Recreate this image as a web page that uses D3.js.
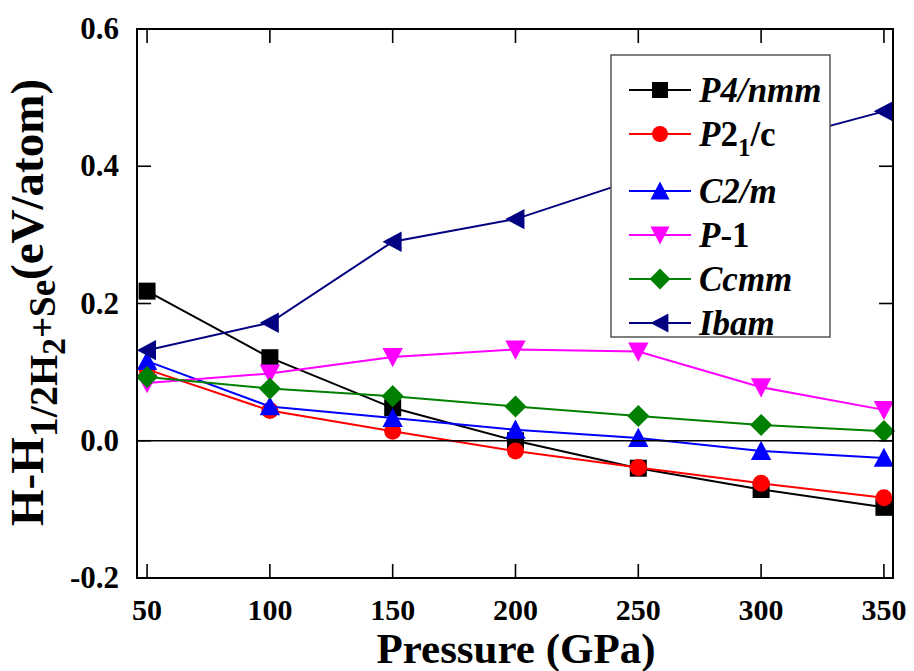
<!DOCTYPE html>
<html>
<head>
<meta charset="utf-8">
<script src="https://cdn.jsdelivr.net/npm/d3@7"></script>
</head>
<body style="margin:0;background:#fff">
<div id="graph"></div>
<script>
// pressure points (GPa)
var pressure = [50, 100, 150, 200, 250, 300, 350]

// enthalpy vs 1/2H2+Se (eV/atom)
var p4nmm = [0.218, 0.121, 0.048, 0.000, -0.040, -0.071, -0.097]
var p21c  = [0.104, 0.044, 0.014, -0.015, -0.039, -0.062, -0.083]
var c2m   = [0.116, 0.050, 0.033, 0.016, 0.004, -0.015, -0.025]
var p1    = [0.084, 0.098, 0.122, 0.133, 0.130, 0.078, 0.045]
var ccmm  = [0.093, 0.076, 0.065, 0.050, 0.036, 0.023, 0.014]
var ibam  = [0.132, 0.172, 0.290, 0.323, 0.382, 0.432, 0.480]

var seriesNames = ['P4/nmm', 'P21/c', 'C2/m', 'P-1', 'Ccmm', 'Ibam']
var seriesValues = [p4nmm, p21c, c2m, p1, ccmm, ibam]
var xTicks = [50, 100, 150, 200, 250, 300, 350]
var yTicks = [-0.2, 0.0, 0.2, 0.4, 0.6]

var colors = ['#000000', '#ff0000', '#0000ff', '#ff00ff', '#008000', '#000080']
var shapes = ['square', 'circle', 'up', 'down', 'diamond', 'left']

var W = 914, H = 671
var margin = { top: 29, right: 21, bottom: 93, left: 137 }
var width = W - margin.left - margin.right,
    height = H - margin.top - margin.bottom

var svg = d3.select('#graph').append('svg')
    .attr('width', W)
    .attr('height', H)

var x = d3.scaleLinear().domain([45.9, 353.7]).range([margin.left, margin.left + width])
var y = d3.scaleLinear().domain([-0.2, 0.6]).range([margin.top + height, margin.top])

// marker path centred on 0,0
function marker(shape, s) {
    var h = s / 2
    if (shape == 'square') return 'M' + (-h) + ',' + (-h) + 'h' + s + 'v' + s + 'h' + (-s) + 'Z'
    if (shape == 'circle') return d3.symbol(d3.symbolCircle, Math.PI * h * h)()
    if (shape == 'diamond') { var d = h * 1.3; return 'M0,' + (-d) + 'L' + d + ',0L0,' + d + 'L' + (-d) + ',0Z' }
    var a = h * 1.2, b = h * 1.05
    if (shape == 'up') return 'M0,' + (-a) + 'L' + a + ',' + b + 'L' + (-a) + ',' + b + 'Z'
    if (shape == 'down') return 'M0,' + a + 'L' + a + ',' + (-b) + 'L' + (-a) + ',' + (-b) + 'Z'
    if (shape == 'left') return 'M' + (-a) + ',0L' + b + ',' + (-a) + 'L' + b + ',' + a + 'Z'
}

var line = d3.line()
    .x(function (d) { return x(d.p) })
    .y(function (d) { return y(d.v) })

// series
seriesValues.forEach(function (vals, k) {
    var pts = vals.map(function (v, i) { return { p: pressure[i], v: v } })
    var g = svg.append('g')
    g.append('path')
        .datum(pts)
        .attr('fill', 'none')
        .attr('stroke', colors[k])
        .attr('stroke-width', 2)
        .attr('d', line)
    g.selectAll('.pt')
        .data(pts)
        .enter()
        .append('path')
        .attr('class', 'pt')
        .attr('transform', function (d) { return 'translate(' + x(d.p) + ',' + y(d.v) + ')' })
        .attr('d', marker(shapes[k], 17))
        .attr('fill', colors[k])
})

// zero line
svg.append('line')
    .attr('x1', x.range()[0]).attr('x2', x.range()[1])
    .attr('y1', y(0)).attr('y2', y(0))
    .attr('stroke', '#000')
    .attr('stroke-width', 1.6)

// frame with inward ticks on all sides
var tickLen = 14
svg.append('rect')
    .attr('x', margin.left).attr('y', margin.top)
    .attr('width', width).attr('height', height)
    .attr('fill', 'none').attr('stroke', '#000').attr('stroke-width', 2)

var ticks = svg.append('g').attr('stroke', '#000').attr('stroke-width', 1.6)
xTicks.forEach(function (t) {
    ticks.append('line').attr('x1', x(t)).attr('x2', x(t)).attr('y1', margin.top + height).attr('y2', margin.top + height - tickLen)
    ticks.append('line').attr('x1', x(t)).attr('x2', x(t)).attr('y1', margin.top).attr('y2', margin.top + tickLen)
})
yTicks.forEach(function (t) {
    ticks.append('line').attr('y1', y(t)).attr('y2', y(t)).attr('x1', margin.left).attr('x2', margin.left + tickLen)
    ticks.append('line').attr('y1', y(t)).attr('y2', y(t)).attr('x1', margin.left + width).attr('x2', margin.left + width - tickLen)
})

svg.append('g').selectAll('text')
    .data(xTicks)
    .enter()
    .append('text')
    .attr('x', function (d) { return x(d) })
    .attr('y', 620)
    .attr('text-anchor', 'middle')
    .attr('font-size', 30)
    .text(function (d) { return d })

svg.append('g').selectAll('text')
    .data(yTicks)
    .enter()
    .append('text')
    .attr('x', 119)
    .attr('y', function (d) { return y(d) + 10 })
    .attr('text-anchor', 'end')
    .attr('font-size', 31)
    .text(function (d) { return d3.format('.1f')(d).replace('−', '-') })

// axis titles
svg.append('text')
    .attr('x', 516)
    .attr('y', 663)
    .attr('text-anchor', 'middle')
    .attr('font-size', 43)
    .text('Pressure (GPa)')

var yl = svg.append('text')
    .attr('transform', 'translate(43,526) rotate(-90)')
    .attr('text-anchor', 'start')
    .attr('font-size', 47)
yl.append('tspan').text('H-H')
yl.append('tspan').attr('font-size', 40).attr('dy', 14).text('1/2H')
yl.append('tspan').attr('font-size', 34).attr('dy', 8).text('2')
yl.append('tspan').attr('font-size', 37).attr('dy', -10).text('+Se')
yl.append('tspan').attr('dy', -12).text('(eV/atom)')

// legend
var legend = svg.append('g')
legend.append('rect')
    .attr('x', 611).attr('y', 55)
    .attr('width', 219).attr('height', 282)
    .attr('fill', '#fff')
    .attr('stroke', '#555')
    .attr('stroke-width', 1.5)

// italic / upright parts of the space group names
function nameParts(n) {
    if (n == 'P4/nmm') return [['P', 1], ['4/', 1], ['nmm', 1]]
    if (n == 'P21/c') return [['P', 1], ['2', 0], ['1', 0, 'sub'], ['/c', 0, 'up']]
    if (n == 'C2/m') return [['C', 1], ['2/', 1], ['m', 1]]
    if (n == 'P-1') return [['P', 1], ['-1', 0]]
    return [[n, 1]]
}

seriesNames.forEach(function (n, i) {
    var cy = 90 + i * 44 + (i >= 2 ? 13 : 0)
    var row = legend.append('g')
    row.append('line')
        .attr('x1', 629).attr('x2', 691)
        .attr('y1', cy).attr('y2', cy)
        .attr('stroke', colors[i]).attr('stroke-width', 2)
    row.append('path')
        .attr('transform', 'translate(660,' + cy + ')')
        .attr('d', marker(shapes[i], 16))
        .attr('fill', colors[i])
    var t = row.append('text')
        .attr('x', 699)
        .attr('y', cy + 12)
        .attr('font-size', 35)
    nameParts(n).forEach(function (p) {
        var s = t.append('tspan').text(p[0]).attr('font-style', p[1] ? 'italic' : 'normal')
        if (p[2] == 'sub') s.attr('font-size', 25).attr('dy', 10)
        if (p[2] == 'up') s.attr('dy', -10)
    })
})

// serif bold everywhere, set on each text so nothing overrides it
svg.selectAll('text, tspan')
    .attr('font-family', 'Liberation Serif')
    .attr('font-weight', 'bold')
    .style('font-family', '"Liberation Serif", serif')
    .style('font-weight', 'bold')
</script>
</body>
</html>
